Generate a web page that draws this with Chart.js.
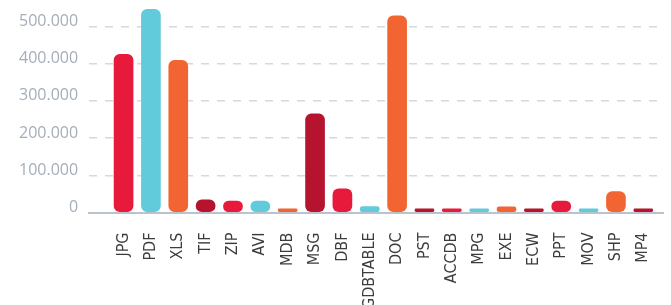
<!DOCTYPE html>
<html>
<head>
<meta charset="utf-8">
<script src="https://cdn.jsdelivr.net/npm/chart.js@4"></script>
<style>
  html, body { margin: 0; padding: 0; background: #fff; overflow: hidden; }
  #wrap { width: 671px; height: 329px; position: relative; }
</style>
</head>
<body>
<div id="wrap"><canvas id="fileChart"></canvas></div>
<script>
// file types and how many of each
const fileTypes = ["JPG", "PDF", "XLS", "TIF", "ZIP", "AVI", "MDB", "MSG", "DBF", "GDBTABLE",
                   "DOC", "PST", "ACCDB", "MPG", "EXE", "ECW", "PPT", "MOV", "SHP", "MP4"];
const fileCounts = [425000, 546000, 409000, 34000, 31000, 31000, 10000, 265000, 64000, 16000,
                    529000, 10000, 10000, 10000, 15000, 10000, 31000, 10000, 56000, 10000];
const yTicks = [0, 100000, 200000, 300000, 400000, 500000];
const palette = ["#e71a3b", "#62cbdb", "#f26532", "#b5132e"];

function formatThousands(v) {
    return String(v).replace(/\B(?=(\d{3})+(?!\d))/g, ".");
}

const ctx = document.getElementById("fileChart").getContext("2d");
const fileChart = new Chart(ctx, {
    type: "bar",
    data: {
        datasets: [{
            data: fileCounts.map((v, i) => ({ x: i, y: v })),
            backgroundColor: fileCounts.map((v, i) => palette[i % palette.length]),
            borderRadius: 6,
            borderSkipped: false,
            barThickness: 19,
            clip: false
        }]
    },
    options: {
        responsive: true,
        maintainAspectRatio: false,
        animation: false,
        layout: { padding: { left: 8, right: 8, top: 0, bottom: 0 } },
        plugins: {
            legend: { display: false },
            tooltip: { enabled: false }
        },
        scales: {
            x: {
                type: "linear",
                offset: false,
                min: -1.26,
                max: 19.72,
                afterBuildTicks: scale => { scale.ticks = fileTypes.map((t, i) => ({ value: i })); },
                afterFit: scale => { scale.paddingRight = 0; },
                grid: { display: false, drawTicks: false },
                border: { display: true, color: "#b9c3cd", width: 2 },
                ticks: {
                    autoSkip: false,
                    minRotation: 90,
                    maxRotation: 90,
                    padding: 20,
                    color: "#3c3c3c",
                    font: { family: "'Liberation Sans Narrow', 'DejaVu Sans Condensed', 'Liberation Sans'", size: 16 },
                    callback: v => fileTypes[v] ?? ""
                }
            },
            y: {
                min: 0,
                max: 516000,
                afterBuildTicks: scale => { scale.ticks = yTicks.map(v => ({ value: v })); },
                grid: {
                    drawTicks: false,
                    color: ctx => ctx.tick && ctx.tick.value === 0 ? "rgba(0,0,0,0)" : "#d3d9df",
                    lineWidth: 1.5
                },
                border: { display: false, dash: [8, 8] },
                ticks: {
                    padding: 11,
                    labelOffset: -5,
                    color: "#a4aeb9",
                    font: { family: "'Open Sans'", size: 16 },
                    callback: v => formatThousands(v)
                }
            }
        }
    }
});
</script>
</body>
</html>
